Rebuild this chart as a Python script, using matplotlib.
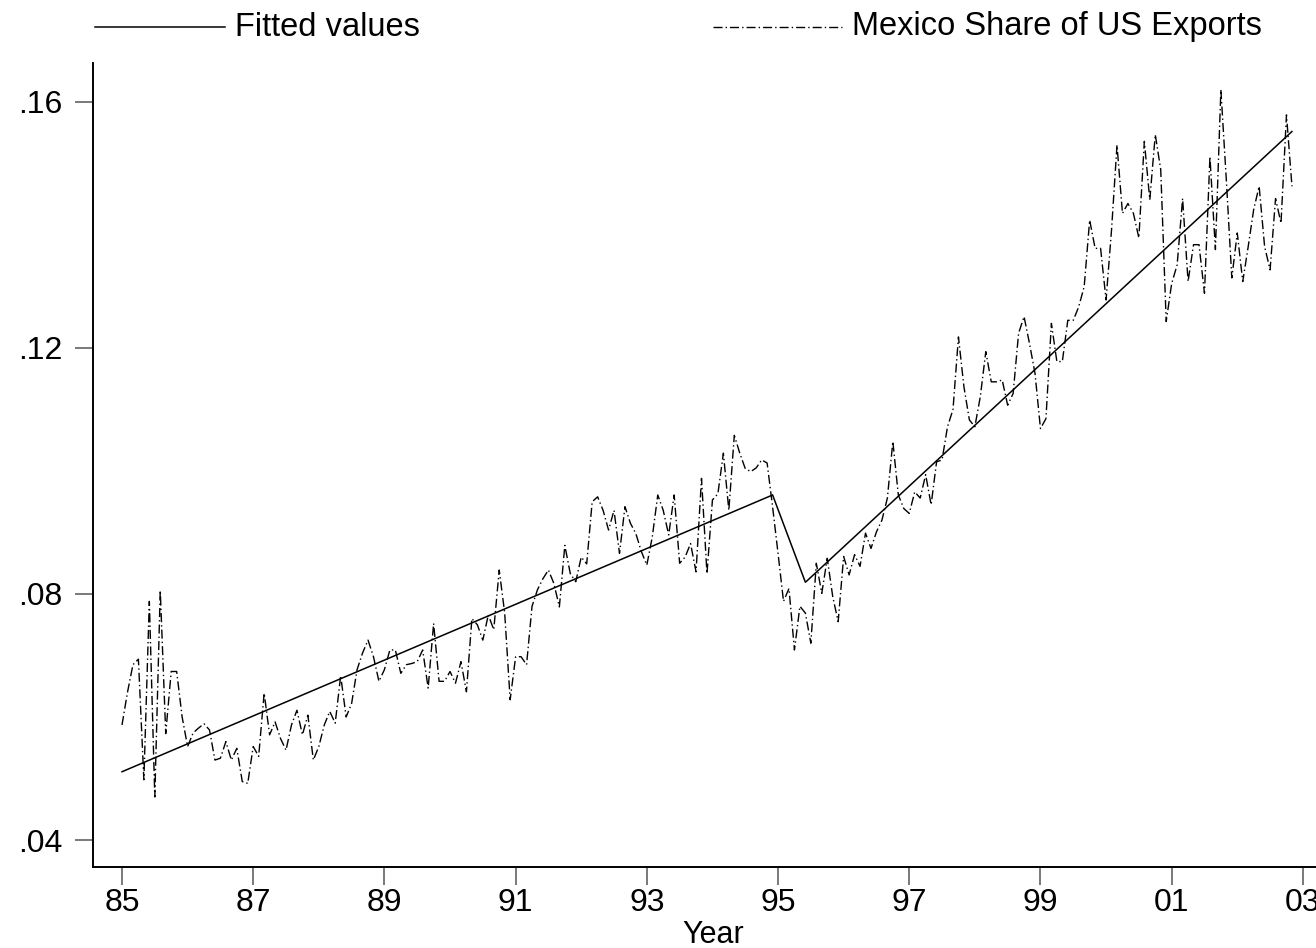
import matplotlib
matplotlib.use("Agg")
import matplotlib.pyplot as plt
from matplotlib.lines import Line2D
import numpy as np

# Monthly Mexico share of US exports, starting January 1985
start_year = 85
share = [
    0.0587, 0.0640, 0.0685, 0.0694, 0.0498, 0.0788, 0.0470, 0.0806, 0.0573, 0.0674, 0.0674, 0.0600,
    0.0552, 0.0574, 0.0582, 0.0589, 0.0579, 0.0530, 0.0533, 0.0560, 0.0530, 0.0549, 0.0495, 0.0492,
    0.0552, 0.0536, 0.0639, 0.0571, 0.0592, 0.0565, 0.0546, 0.0587, 0.0611, 0.0571, 0.0603, 0.0530,
    0.0552, 0.0587, 0.0609, 0.0590, 0.0667, 0.0600, 0.0622, 0.0677, 0.0704, 0.0725, 0.0698, 0.0658,
    0.0677, 0.0709, 0.0709, 0.0671, 0.0685, 0.0687, 0.0690, 0.0709, 0.0647, 0.0752, 0.0658, 0.0658,
    0.0674, 0.0655, 0.0690, 0.0641, 0.0760, 0.0750, 0.0725, 0.0766, 0.0742, 0.0839, 0.0769, 0.0628,
    0.0698, 0.0698, 0.0685, 0.0780, 0.0807, 0.0825, 0.0839, 0.0817, 0.0779, 0.0879, 0.0833, 0.0820,
    0.0860, 0.0849, 0.0950, 0.0958, 0.0936, 0.0904, 0.0936, 0.0866, 0.0942, 0.0915, 0.0898, 0.0869,
    0.0847, 0.0893, 0.0961, 0.0936, 0.0896, 0.0961, 0.0850, 0.0860, 0.0882, 0.0836, 0.0988, 0.0833,
    0.0953, 0.0963, 0.1029, 0.0936, 0.1058, 0.1029, 0.1004, 0.0999, 0.1005, 0.1018, 0.1013, 0.0942,
    0.0866, 0.0788, 0.0809, 0.0709, 0.0780, 0.0769, 0.0720, 0.0850, 0.0801, 0.0858, 0.0796, 0.0755,
    0.0861, 0.0831, 0.0864, 0.0845, 0.0899, 0.0874, 0.0901, 0.0920, 0.0956, 0.1048, 0.0961, 0.0939,
    0.0931, 0.0966, 0.0956, 0.0994, 0.0945, 0.1015, 0.1018, 0.1072, 0.1100, 0.1218, 0.1137, 0.1083,
    0.1072, 0.1121, 0.1194, 0.1145, 0.1145, 0.1148, 0.1107, 0.1126, 0.1224, 0.1251, 0.1207, 0.1159,
    0.1069, 0.1085, 0.1240, 0.1178, 0.1178, 0.1245, 0.1245, 0.1267, 0.1300, 0.1408, 0.1362, 0.1362,
    0.1278, 0.1392, 0.1530, 0.1419, 0.1435, 0.1419, 0.1379, 0.1536, 0.1441, 0.1547, 0.1490, 0.1243,
    0.1305, 0.1335, 0.1443, 0.1308, 0.1368, 0.1368, 0.1289, 0.1511, 0.1360, 0.1620, 0.1473, 0.1314,
    0.1387, 0.1308, 0.1365, 0.1425, 0.1463, 0.1365, 0.1327, 0.1443, 0.1403, 0.1579, 0.1463,
]

# Piecewise linear trend (break around the 1995 peso crisis)
fit_years = [85.0, 94.917, 95.417, 102.833]
fit_values = [0.0511, 0.0961, 0.0819, 0.1552]

xtick_values = [85, 87, 89, 91, 93, 95, 97, 99, 101, 103]
xtick_labels = ["85", "87", "89", "91", "93", "95", "97", "99", "01", "03"]
ytick_values = [0.04, 0.08, 0.12, 0.16]
ytick_labels = [".04", ".08", ".12", ".16"]

plt.rcParams["font.family"] = ["Liberation Sans", "DejaVu Sans"]

W, H = 1316, 948
fig = plt.figure(figsize=(W / 100, H / 100), dpi=100)
ax_left, ax_right, ax_top, ax_bottom = 93, 1316, 63, 867
ax = fig.add_axes([ax_left / W, (H - ax_bottom) / H,
                   (ax_right - ax_left) / W, (ax_bottom - ax_top) / H])

months = start_year + np.arange(len(share)) / 12.0

dashdot = (0, (6.5, 2.2, 1.0, 2.2))
ax.plot(fit_years, fit_values, color="black", lw=1.1, solid_joinstyle="miter")
ax.plot(months, share, color="black", lw=1.0, linestyle=dashdot)

ax.set_xlim(84.558, 103.20)
ax.set_ylim(0.03561, 0.16634)

ax.set_xticks(xtick_values)
ax.set_xticklabels(xtick_labels)
ax.set_yticks(ytick_values)
ax.set_yticklabels(ytick_labels)

for s in ("top", "right"):
    ax.spines[s].set_visible(False)
for s in ("left", "bottom"):
    ax.spines[s].set_linewidth(1.4)
    ax.spines[s].set_color("black")

ax.tick_params(axis="both", direction="out", length=13, width=1.1,
               color="#555555", labelsize=23)
ax.tick_params(axis="x", pad=2)
ax.tick_params(axis="y", pad=9)

# Axis title placed under the middle of the year range
fig.text(713 / W, 1 - 943 / H, "Year", fontsize=22, ha="center", va="baseline")

# Legend row across the top of the figure
ly = 1 - 27 / H
fig.add_artist(Line2D([95 / W, 225 / W], [ly, ly], color="black", lw=1.1))
fig.text(235 / W, ly, "Fitted values", fontsize=23.5, va="center", ha="left")
fig.add_artist(Line2D([713 / W, 842 / W], [ly, ly], color="black", lw=1.0,
                      linestyle=dashdot))
fig.text(852 / W, ly, "Mexico Share of US Exports", fontsize=23.5, va="center", ha="left")

fig.savefig("out.png", dpi=100)
